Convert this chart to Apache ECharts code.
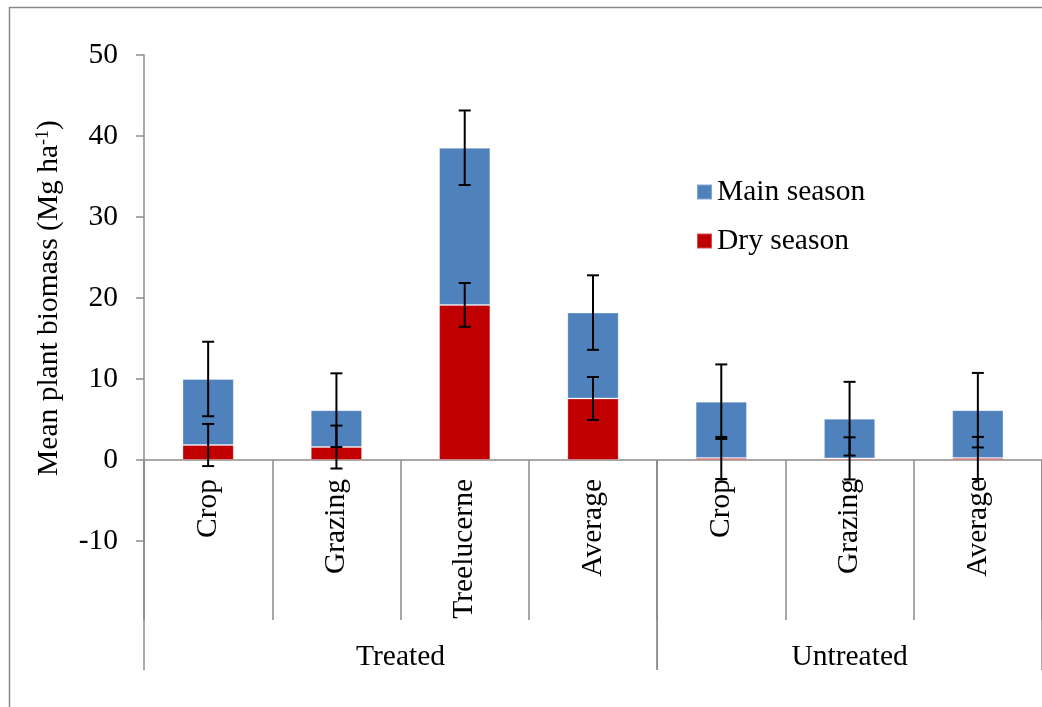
<!DOCTYPE html>
<html>
<head>
<meta charset="utf-8">
<script src="https://cdn.jsdelivr.net/npm/echarts@6/dist/echarts.min.js"></script>
<style>
  html, body { margin: 0; padding: 0; background: #fff; }
  #chart { width: 1042px; height: 707px; }
</style>
</head>
<body>
<div id="chart"></div>
<script>
// Plant biomass by land use, split into dry-season and main-season contributions
const categories = ['Crop', 'Grazing', 'Treelucerne', 'Average', 'Crop', 'Grazing', 'Average'];
const categoryGroups = ['Treated', 'Treated', 'Treated', 'Treated', 'Untreated', 'Untreated', 'Untreated'];
const groups = ['Treated', 'Untreated'];

const drySeason = [1.85, 1.6, 19.15, 7.6, 0.25, 0.2, 0.25];
const mainSeason = [8.15, 4.55, 19.4, 10.6, 6.95, 4.9, 5.9];
const dryError = [2.6, 2.65, 2.7, 2.65, 2.6, 2.6, 2.6];
const mainError = [4.6, 4.55, 4.6, 4.6, 4.6, 4.55, 4.6];

const yTicks = { min: -10, max: 50, interval: 10 };

const FONT = "'Liberation Serif', 'Times New Roman', serif";
const FS = 29.5;
const AXIS_GREY = '#8c8c8c';
const BLUE = '#4f81bd';
const RED = '#c00000';

// unique axis keys (names repeat across groups)
const axisKeys = categories.map((c, i) => categoryGroups[i] + ': ' + c);

// error bars sit on top of each stacked segment
const errorData = [];
categories.forEach((c, i) => {
  errorData.push([i, drySeason[i], dryError[i]]);
  errorData.push([i, drySeason[i] + mainSeason[i], mainError[i]]);
});

// group spans: [first index, last index, label]
const groupData = groups.map(g => {
  const first = categoryGroups.indexOf(g);
  const last = categoryGroups.lastIndexOf(g);
  return [first, last, g];
});

const chart = echarts.init(document.getElementById('chart'), null, { renderer: 'canvas' });

chart.setOption({
  animation: false,
  textStyle: { fontFamily: FONT },
  graphic: [{
    type: 'rect',
    left: 7, top: 5,
    shape: { width: 1060, height: 720 },
    style: { fill: 'none', stroke: '#8a8a8a', lineWidth: 1.5 },
    silent: true
  }],
  grid: { left: 144, right: 0, top: 55, bottom: 166, containLabel: false },
  legend: {
    data: ['Main season', 'Dry season'],
    orient: 'vertical',
    left: 696, top: 177,
    padding: 0,
    itemWidth: 15, itemHeight: 15,
    itemGap: 19,
    icon: 'rect',
    textStyle: { fontSize: FS, fontFamily: FONT, color: '#000' }
  },
  xAxis: {
    type: 'category',
    data: axisKeys,
    axisLine: { onZero: true, lineStyle: { color: AXIS_GREY, width: 1.5 } },
    axisTick: { show: true, length: 160, alignWithLabel: false, lineStyle: { color: AXIS_GREY, width: 1.5 } },
    axisLabel: {
      rotate: 90, margin: -62, interval: 0,
      fontSize: FS, fontFamily: FONT, color: '#000',
      formatter: (v, i) => categories[i]
    },
    splitLine: { show: false }
  },
  yAxis: {
    type: 'value',
    min: yTicks.min, max: yTicks.max, interval: yTicks.interval,
    name: 'Mean plant biomass (Mg ha{sup|-1})',
    nameLocation: 'middle',
    nameGap: 80,
    nameRotate: 90,
    nameTextStyle: {
      fontSize: FS, fontFamily: FONT, color: '#000',
      rich: { sup: { fontSize: 18, fontFamily: FONT, color: '#000', verticalAlign: 'top' } }
    },
    axisLine: { show: true, lineStyle: { color: AXIS_GREY, width: 1.5 } },
    axisTick: { show: true, length: 8, lineStyle: { color: AXIS_GREY, width: 1.5 } },
    axisLabel: { margin: 26, fontSize: FS, fontFamily: FONT, color: '#000' },
    splitLine: { show: false }
  },
  series: [
    {
      name: 'Dry season', type: 'bar', stack: 'biomass',
      data: drySeason, barWidth: '40%',
      itemStyle: { color: RED, borderColor: 'rgba(255,255,255,0.3)', borderWidth: 1 }
    },
    {
      name: 'Main season', type: 'bar', stack: 'biomass',
      data: mainSeason, barWidth: '40%',
      itemStyle: { color: BLUE, borderColor: 'rgba(255,255,255,0.3)', borderWidth: 1 }
    },
    {
      name: 'errors', type: 'custom', z: 5,
      data: errorData,
      encode: { x: 0, y: 1 },
      renderItem: function (params, api) {
        const idx = api.value(0), v = api.value(1), e = api.value(2);
        const top = api.coord([idx, v + e]);
        const bot = api.coord([idx, v - e]);
        const hw = 6;
        const s = { stroke: '#000', lineWidth: 2 };
        return {
          type: 'group',
          children: [
            { type: 'line', shape: { x1: top[0], y1: top[1], x2: bot[0], y2: bot[1] }, style: s },
            { type: 'line', shape: { x1: top[0] - hw, y1: top[1], x2: top[0] + hw, y2: top[1] }, style: s },
            { type: 'line', shape: { x1: bot[0] - hw, y1: bot[1], x2: bot[0] + hw, y2: bot[1] }, style: s }
          ]
        };
      }
    },
    {
      name: 'groups', type: 'custom', z: 3,
      data: groupData,
      clip: false,
      encode: { x: 0 },
      renderItem: function (params, api) {
        const first = api.value(0), last = api.value(1);
        const label = groupData[params.dataIndex][2];
        const bw = api.size([1, 0])[0];
        const p0 = api.coord([first, 0]);
        const p1 = api.coord([last, 0]);
        const x0 = p0[0] - bw / 2, x1 = p1[0] + bw / 2, y0 = p0[1];
        const s = { stroke: AXIS_GREY, lineWidth: 1.5 };
        return {
          type: 'group',
          children: [
            { type: 'line', shape: { x1: x0, y1: y0, x2: x0, y2: y0 + 210 }, style: s },
            { type: 'line', shape: { x1: x1, y1: y0, x2: x1, y2: y0 + 210 }, style: s },
            {
              type: 'text',
              style: {
                text: label, x: (x0 + x1) / 2, y: y0 + 197,
                align: 'center', verticalAlign: 'middle',
                fontSize: FS, fontFamily: FONT, fill: '#000'
              }
            }
          ]
        };
      }
    }
  ]
});
</script>
</body>
</html>
